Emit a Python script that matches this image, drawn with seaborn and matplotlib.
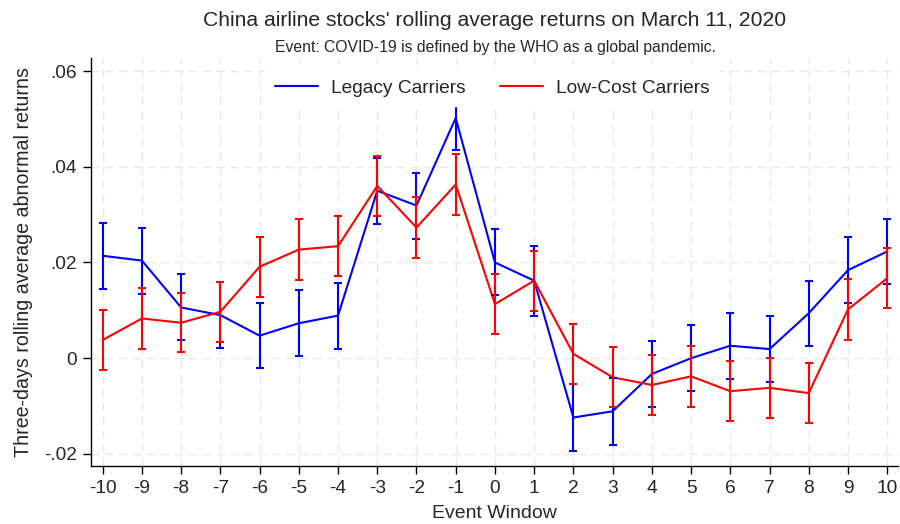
import numpy as np
import pandas as pd
import matplotlib
matplotlib.use("Agg")
import matplotlib.pyplot as plt
import seaborn as sns

# Event window (days relative to March 11, 2020)
event_days = list(range(-10, 11))

# Three-day rolling average abnormal returns
legacy_mean = [0.0214, 0.0204, 0.0106, 0.0090, 0.0047, 0.0073, 0.0089, 0.0350,
               0.0319, 0.0502, 0.0200, 0.0162, -0.0124, -0.0111, -0.0033, 0.0000,
               0.0026, 0.0019, 0.0094, 0.0184, 0.0223]
legacy_ci = [0.0069, 0.0069, 0.0069, 0.0069, 0.0068, 0.0069, 0.0069, 0.0069,
             0.0069, 0.0067, 0.0069, 0.0073, 0.0070, 0.0070, 0.0068, 0.0069,
             0.0069, 0.0069, 0.0068, 0.0069, 0.0068]

lcc_mean = [0.0038, 0.0083, 0.0074, 0.0097, 0.0191, 0.0227, 0.0234, 0.0360,
            0.0273, 0.0363, 0.0113, 0.0162, 0.0009, -0.0040, -0.0056, -0.0038,
            -0.0069, -0.0062, -0.0073, 0.0102, 0.0167]
lcc_ci = [0.0063, 0.0063, 0.0062, 0.0063, 0.0063, 0.0063, 0.0063, 0.0063,
          0.0063, 0.0064, 0.0063, 0.0063, 0.0063, 0.0063, 0.0063, 0.0063,
          0.0063, 0.0063, 0.0063, 0.0063, 0.0063]

series_names = ["Legacy Carriers", "Low-Cost Carriers"]
series_colors = ["#0000ff", "#ff0000"]

y_ticks = [-0.02, 0.0, 0.02, 0.04, 0.06]
y_tick_labels = ["-.02", "0", ".02", ".04", ".06"]

df = pd.concat([
    pd.DataFrame({"day": event_days, "ret": legacy_mean, "ci": legacy_ci,
                  "group": series_names[0]}),
    pd.DataFrame({"day": event_days, "ret": lcc_mean, "ci": lcc_ci,
                  "group": series_names[1]}),
], ignore_index=True)

sns.set_theme(style="white")
plt.rcParams["font.family"] = ["Liberation Sans", "DejaVu Sans"]

fig = plt.figure(figsize=(9, 5.24), dpi=100)
ax = fig.add_axes([0.101, 0.111, 0.897, 0.778])

palette = dict(zip(series_names, series_colors))
sns.lineplot(data=df, x="day", y="ret", hue="group", hue_order=series_names,
             palette=palette, linewidth=1.5, ax=ax, zorder=3, legend=False)

for name in series_names:
    sub = df[df["group"] == name]
    ax.errorbar(sub["day"], sub["ret"], yerr=sub["ci"], fmt="none",
                ecolor=palette[name], elinewidth=1.5, capsize=3.2,
                capthick=1.5, zorder=3)

ax.set_xlim(-10.3, 10.28)
ax.set_ylim(-0.0225, 0.0627)
ax.set_xticks(event_days)
ax.set_xticklabels([str(d) for d in event_days])
ax.set_yticks(y_ticks)
ax.set_yticklabels(y_tick_labels)

ax.grid(True, color="#e8e8e8", linestyle=(0, (6, 4)), linewidth=1.0)
ax.set_axisbelow(True)
for side in ["top", "right"]:
    ax.spines[side].set_visible(False)
for side in ["left", "bottom"]:
    ax.spines[side].set_color("black")
    ax.spines[side].set_linewidth(1.0)

ax.tick_params(axis="both", which="both", direction="out", length=6,
               width=1.0, color="black", labelsize=13.8, pad=4,
               left=True, bottom=True)

ax.set_xlabel("Event Window", fontsize=14, labelpad=6)
ax.set_ylabel("Three-days rolling average abnormal returns", fontsize=14.1,
              labelpad=8)

handles = [plt.Line2D([0], [0], color=c, linewidth=1.5) for c in series_colors]
leg = ax.legend(handles, series_names, loc="upper center",
                bbox_to_anchor=(0.497, 0.995), ncol=2, fontsize=13.8,
                frameon=True, framealpha=1.0, edgecolor="white",
                fancybox=False, handlelength=2.25, columnspacing=1.8,
                handletextpad=0.68, borderpad=0.5)
leg.set_zorder(5)

fig.text(0.55, 0.960, "China airline stocks' rolling average returns on March 11, 2020",
         ha="center", va="center", fontsize=15.2)
fig.text(0.55, 0.910, "Event: COVID-19 is defined by the WHO as a global pandemic.",
         ha="center", va="center", fontsize=11.3)

fig.savefig("out.png", dpi=100, facecolor="white")
